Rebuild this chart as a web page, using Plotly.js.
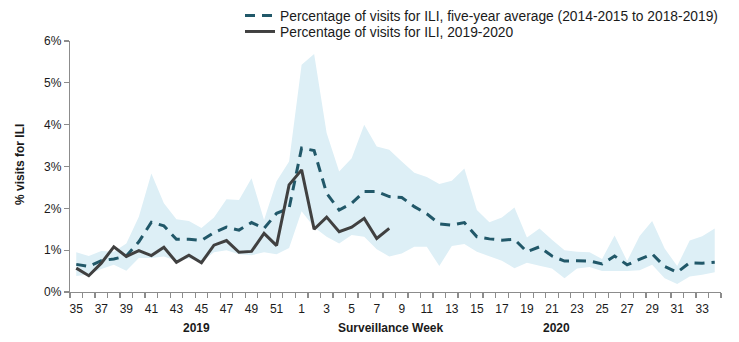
<!DOCTYPE html>
<html>
<head>
<meta charset="utf-8">
<script src="https://cdn.plot.ly/plotly-3.0.1.min.js"></script>
<style>
html,body{margin:0;padding:0;background:#fff;}
#chart{width:739px;height:342px;}
</style>
</head>
<body>
<div id="chart"></div>
<script>
// Surveillance weeks (2019 weeks 35-52, 2020 weeks 1-34)
const weeks = ['35','36','37','38','39','40','41','42','43','44','45','46','47','48','49','50','51','52',
  '1','2','3','4','5','6','7','8','9','10','11','12','13','14','15','16','17','18','19','20',
  '21','22','23','24','25','26','27','28','29','30','31','32','33','34'];

// Five-year average % visits for ILI
const fiveYearAvg = [0.66,0.61,0.75,0.79,0.86,1.20,1.67,1.58,1.26,1.26,1.23,1.42,1.55,1.48,1.66,1.52,1.88,2.00,
  3.44,3.38,2.36,1.96,2.12,2.40,2.40,2.28,2.26,2.04,1.87,1.63,1.60,1.66,1.32,1.27,1.24,1.26,0.96,1.08,
  0.86,0.74,0.75,0.74,0.67,0.86,0.65,0.78,0.91,0.61,0.47,0.70,0.69,0.71];

// Five-year range (minimum / maximum)
const rangeLow = [0.38,0.42,0.55,0.65,0.51,0.81,0.81,0.85,0.75,0.80,0.72,0.95,1.00,0.90,0.88,0.95,0.90,1.05,
  1.93,1.55,1.32,1.16,1.36,1.32,1.02,0.85,0.92,1.08,1.08,0.62,1.10,1.15,0.96,0.85,0.75,0.57,0.70,0.63,
  0.56,0.33,0.56,0.60,0.50,0.50,0.50,0.52,0.65,0.33,0.19,0.37,0.41,0.47];
const rangeHigh = [0.95,0.86,0.98,0.96,1.16,1.80,2.83,2.12,1.74,1.70,1.53,1.78,2.22,2.20,2.72,1.72,2.65,3.12,
  5.43,5.69,3.80,2.88,3.20,4.00,3.48,3.40,3.12,2.85,2.75,2.58,2.66,2.95,1.96,1.67,1.78,2.02,1.30,1.52,
  1.25,1.00,0.96,0.95,0.79,1.35,0.74,1.34,1.70,1.04,0.62,1.23,1.33,1.52];

// 2019-2020 season (weeks 35 to 8)
const season1920 = [0.57,0.39,0.69,1.08,0.85,0.99,0.87,1.07,0.71,0.88,0.70,1.12,1.23,0.95,0.97,1.40,1.11,2.56,
  2.92,1.50,1.79,1.44,1.55,1.76,1.28,1.52];

const yTicks = [0,1,2,3,4,5,6];
const yearLabels = ['2019','Surveillance Week','2020'];
const yTitle = '% visits for ILI';

const xIdx = weeks.map((w,i)=>i);
const tickIdx = xIdx.filter(i=>i%2===0);
const tickTxt = tickIdx.map(i=>weeks[i]);

const FONT = 'Arial, "Liberation Sans", sans-serif';
const TXT = '#1a1a1a';

const traces = [
  {x:xIdx, y:rangeLow, type:'scatter', mode:'lines', line:{width:0, color:'rgba(0,0,0,0)'},
   showlegend:false, hoverinfo:'skip'},
  {x:xIdx, y:rangeHigh, type:'scatter', mode:'lines', line:{width:0, color:'rgba(0,0,0,0)'},
   fill:'tonexty', fillcolor:'rgb(221,239,246)', showlegend:false, hoverinfo:'skip'},
  {x:xIdx, y:fiveYearAvg, type:'scatter', mode:'lines', legend:'legend',
   name:'Percentage of visits for ILI, five-year average (2014-2015 to 2018-2019)',
   line:{color:'#215869', width:3, dash:'10px,7px'}},
  {x:xIdx.slice(0, season1920.length), y:season1920, type:'scatter', mode:'lines', legend:'legend2',
   name:'Percentage of visits for ILI, 2019-2020',
   line:{color:'#404040', width:3}}
];

const legendBase = {xref:'container', yref:'container', xanchor:'left', yanchor:'top',
  traceorder:'normal', font:{family:FONT, size:13.8, color:TXT}, bgcolor:'rgba(0,0,0,0)'};

const layout = {
  width:739, height:342,
  margin:{l:70, r:18, t:41, b:50, autoexpand:false},
  paper_bgcolor:'#fff', plot_bgcolor:'#fff',
  font:{family:FONT, size:12, color:TXT},
  showlegend:true,
  legend:Object.assign({}, legendBase, {x:240/739, y:1-(-1)/342}),
  legend2:Object.assign({}, legendBase, {x:240/739, y:1-(16)/342}),
  xaxis:{
    range:[-0.5, weeks.length-0.5], showgrid:false, zeroline:false,
    showline:true, linecolor:'#8c8c8c', linewidth:1.3,
    tickmode:'array', tickvals:tickIdx, ticktext:tickTxt, ticks:'', ticklabelstandoff:5,
    tickfont:{family:FONT, size:12, color:TXT},
    minor:{tick0:-0.5, dtick:1, ticks:'outside', ticklen:5, tickcolor:'#8c8c8c', tickwidth:1.3, showgrid:false}
  },
  yaxis:{
    range:[0,6], showgrid:false, zeroline:false,
    showline:true, linecolor:'#8c8c8c', linewidth:1.3,
    tickmode:'array', tickvals:yTicks, ticktext:yTicks.map(v=>v+'%'),
    ticks:'outside', ticklen:5, tickcolor:'#8c8c8c', tickwidth:1.3,
    tickfont:{family:FONT, size:12, color:TXT}
  },
  annotations:[
    {text:'<b>'+yTitle+'</b>', xref:'paper', yref:'paper', x:(20-70)/651, y:(292-165)/251, textangle:-90,
     showarrow:false, font:{family:FONT,size:12,color:TXT}, xanchor:'center', yanchor:'middle'},
    {text:'<b>'+yearLabels[0]+'</b>', xref:'paper', yref:'paper', x:(196-70)/651, y:(292-328)/251, showarrow:false, font:{family:FONT,size:12,color:TXT}, xanchor:'center', yanchor:'middle'},
    {text:'<b>'+yearLabels[1]+'</b>', xref:'paper', yref:'paper', x:(390-70)/651, y:(292-328)/251, showarrow:false, font:{family:FONT,size:12,color:TXT}, xanchor:'center', yanchor:'middle'},
    {text:'<b>'+yearLabels[2]+'</b>', xref:'paper', yref:'paper', x:(556-70)/651, y:(292-328)/251, showarrow:false, font:{family:FONT,size:12,color:TXT}, xanchor:'center', yanchor:'middle'}
  ]
};

Plotly.newPlot('chart', traces, layout, {displayModeBar:false, staticPlot:true});
</script>
</body>
</html>
